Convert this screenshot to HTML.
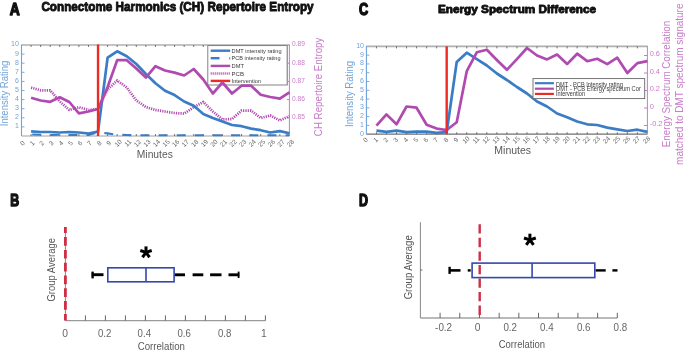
<!DOCTYPE html>
<html><head><meta charset="utf-8"><style>
html,body{margin:0;padding:0;background:#fff;width:685px;height:351px;overflow:hidden}
svg{display:block;will-change:transform}
text{font-family:"Liberation Sans", sans-serif}
</style></head><body>
<svg width="685" height="351" viewBox="0 0 685 351">
<rect width="685" height="351" fill="#ffffff"/>
<line x1="21.50" y1="45.00" x2="289.40" y2="45.00" stroke="#b0b0b0" stroke-width="1.6" />
<line x1="21.50" y1="136.00" x2="289.40" y2="136.00" stroke="#a0a0a0" stroke-width="1.2" />
<line x1="31.07" y1="45.00" x2="31.07" y2="47.00" stroke="#555" stroke-width="0.8" />
<line x1="31.07" y1="136.00" x2="31.07" y2="134.00" stroke="#555" stroke-width="0.8" />
<line x1="40.64" y1="45.00" x2="40.64" y2="47.00" stroke="#555" stroke-width="0.8" />
<line x1="40.64" y1="136.00" x2="40.64" y2="134.00" stroke="#555" stroke-width="0.8" />
<line x1="50.20" y1="45.00" x2="50.20" y2="47.00" stroke="#555" stroke-width="0.8" />
<line x1="50.20" y1="136.00" x2="50.20" y2="134.00" stroke="#555" stroke-width="0.8" />
<line x1="59.77" y1="45.00" x2="59.77" y2="47.00" stroke="#555" stroke-width="0.8" />
<line x1="59.77" y1="136.00" x2="59.77" y2="134.00" stroke="#555" stroke-width="0.8" />
<line x1="69.34" y1="45.00" x2="69.34" y2="47.00" stroke="#555" stroke-width="0.8" />
<line x1="69.34" y1="136.00" x2="69.34" y2="134.00" stroke="#555" stroke-width="0.8" />
<line x1="78.91" y1="45.00" x2="78.91" y2="47.00" stroke="#555" stroke-width="0.8" />
<line x1="78.91" y1="136.00" x2="78.91" y2="134.00" stroke="#555" stroke-width="0.8" />
<line x1="88.47" y1="45.00" x2="88.47" y2="47.00" stroke="#555" stroke-width="0.8" />
<line x1="88.47" y1="136.00" x2="88.47" y2="134.00" stroke="#555" stroke-width="0.8" />
<line x1="98.04" y1="45.00" x2="98.04" y2="47.00" stroke="#555" stroke-width="0.8" />
<line x1="98.04" y1="136.00" x2="98.04" y2="134.00" stroke="#555" stroke-width="0.8" />
<line x1="107.61" y1="45.00" x2="107.61" y2="47.00" stroke="#555" stroke-width="0.8" />
<line x1="107.61" y1="136.00" x2="107.61" y2="134.00" stroke="#555" stroke-width="0.8" />
<line x1="117.18" y1="45.00" x2="117.18" y2="47.00" stroke="#555" stroke-width="0.8" />
<line x1="117.18" y1="136.00" x2="117.18" y2="134.00" stroke="#555" stroke-width="0.8" />
<line x1="126.75" y1="45.00" x2="126.75" y2="47.00" stroke="#555" stroke-width="0.8" />
<line x1="126.75" y1="136.00" x2="126.75" y2="134.00" stroke="#555" stroke-width="0.8" />
<line x1="136.31" y1="45.00" x2="136.31" y2="47.00" stroke="#555" stroke-width="0.8" />
<line x1="136.31" y1="136.00" x2="136.31" y2="134.00" stroke="#555" stroke-width="0.8" />
<line x1="145.88" y1="45.00" x2="145.88" y2="47.00" stroke="#555" stroke-width="0.8" />
<line x1="145.88" y1="136.00" x2="145.88" y2="134.00" stroke="#555" stroke-width="0.8" />
<line x1="155.45" y1="45.00" x2="155.45" y2="47.00" stroke="#555" stroke-width="0.8" />
<line x1="155.45" y1="136.00" x2="155.45" y2="134.00" stroke="#555" stroke-width="0.8" />
<line x1="165.02" y1="45.00" x2="165.02" y2="47.00" stroke="#555" stroke-width="0.8" />
<line x1="165.02" y1="136.00" x2="165.02" y2="134.00" stroke="#555" stroke-width="0.8" />
<line x1="174.59" y1="45.00" x2="174.59" y2="47.00" stroke="#555" stroke-width="0.8" />
<line x1="174.59" y1="136.00" x2="174.59" y2="134.00" stroke="#555" stroke-width="0.8" />
<line x1="184.15" y1="45.00" x2="184.15" y2="47.00" stroke="#555" stroke-width="0.8" />
<line x1="184.15" y1="136.00" x2="184.15" y2="134.00" stroke="#555" stroke-width="0.8" />
<line x1="193.72" y1="45.00" x2="193.72" y2="47.00" stroke="#555" stroke-width="0.8" />
<line x1="193.72" y1="136.00" x2="193.72" y2="134.00" stroke="#555" stroke-width="0.8" />
<line x1="203.29" y1="45.00" x2="203.29" y2="47.00" stroke="#555" stroke-width="0.8" />
<line x1="203.29" y1="136.00" x2="203.29" y2="134.00" stroke="#555" stroke-width="0.8" />
<line x1="212.86" y1="45.00" x2="212.86" y2="47.00" stroke="#555" stroke-width="0.8" />
<line x1="212.86" y1="136.00" x2="212.86" y2="134.00" stroke="#555" stroke-width="0.8" />
<line x1="222.42" y1="45.00" x2="222.42" y2="47.00" stroke="#555" stroke-width="0.8" />
<line x1="222.42" y1="136.00" x2="222.42" y2="134.00" stroke="#555" stroke-width="0.8" />
<line x1="231.99" y1="45.00" x2="231.99" y2="47.00" stroke="#555" stroke-width="0.8" />
<line x1="231.99" y1="136.00" x2="231.99" y2="134.00" stroke="#555" stroke-width="0.8" />
<line x1="241.56" y1="45.00" x2="241.56" y2="47.00" stroke="#555" stroke-width="0.8" />
<line x1="241.56" y1="136.00" x2="241.56" y2="134.00" stroke="#555" stroke-width="0.8" />
<line x1="251.13" y1="45.00" x2="251.13" y2="47.00" stroke="#555" stroke-width="0.8" />
<line x1="251.13" y1="136.00" x2="251.13" y2="134.00" stroke="#555" stroke-width="0.8" />
<line x1="260.70" y1="45.00" x2="260.70" y2="47.00" stroke="#555" stroke-width="0.8" />
<line x1="260.70" y1="136.00" x2="260.70" y2="134.00" stroke="#555" stroke-width="0.8" />
<line x1="270.26" y1="45.00" x2="270.26" y2="47.00" stroke="#555" stroke-width="0.8" />
<line x1="270.26" y1="136.00" x2="270.26" y2="134.00" stroke="#555" stroke-width="0.8" />
<line x1="279.83" y1="45.00" x2="279.83" y2="47.00" stroke="#555" stroke-width="0.8" />
<line x1="279.83" y1="136.00" x2="279.83" y2="134.00" stroke="#555" stroke-width="0.8" />
<line x1="21.50" y1="44.50" x2="21.50" y2="136.00" stroke="#6fa3da" stroke-width="1.1" />
<line x1="21.50" y1="126.90" x2="24.50" y2="126.90" stroke="#6fa3da" stroke-width="0.9" />
<line x1="21.50" y1="117.80" x2="24.50" y2="117.80" stroke="#6fa3da" stroke-width="0.9" />
<line x1="21.50" y1="108.70" x2="24.50" y2="108.70" stroke="#6fa3da" stroke-width="0.9" />
<line x1="21.50" y1="99.60" x2="24.50" y2="99.60" stroke="#6fa3da" stroke-width="0.9" />
<line x1="21.50" y1="90.50" x2="24.50" y2="90.50" stroke="#6fa3da" stroke-width="0.9" />
<line x1="21.50" y1="81.40" x2="24.50" y2="81.40" stroke="#6fa3da" stroke-width="0.9" />
<line x1="21.50" y1="72.30" x2="24.50" y2="72.30" stroke="#6fa3da" stroke-width="0.9" />
<line x1="21.50" y1="63.20" x2="24.50" y2="63.20" stroke="#6fa3da" stroke-width="0.9" />
<line x1="21.50" y1="54.10" x2="24.50" y2="54.10" stroke="#6fa3da" stroke-width="0.9" />
<text x="18.80" y="128.30" font-size="7.0" fill="#6fa3da" text-anchor="end" font-weight="normal" >1</text>
<text x="18.80" y="119.20" font-size="7.0" fill="#6fa3da" text-anchor="end" font-weight="normal" >2</text>
<text x="18.80" y="110.10" font-size="7.0" fill="#6fa3da" text-anchor="end" font-weight="normal" >3</text>
<text x="18.80" y="101.00" font-size="7.0" fill="#6fa3da" text-anchor="end" font-weight="normal" >4</text>
<text x="18.80" y="91.90" font-size="7.0" fill="#6fa3da" text-anchor="end" font-weight="normal" >5</text>
<text x="18.80" y="82.80" font-size="7.0" fill="#6fa3da" text-anchor="end" font-weight="normal" >6</text>
<text x="18.80" y="73.70" font-size="7.0" fill="#6fa3da" text-anchor="end" font-weight="normal" >7</text>
<text x="18.80" y="64.60" font-size="7.0" fill="#6fa3da" text-anchor="end" font-weight="normal" >8</text>
<text x="18.80" y="55.50" font-size="7.0" fill="#6fa3da" text-anchor="end" font-weight="normal" >9</text>
<text x="18.80" y="46.40" font-size="7.0" fill="#6fa3da" text-anchor="end" font-weight="normal" >10</text>
<line x1="289.40" y1="44.50" x2="289.40" y2="136.00" stroke="#c77bc8" stroke-width="1.0" />
<text x="292.00" y="46.40" font-size="6.6" fill="#c77bc8" text-anchor="start" font-weight="normal" >0.89</text>
<line x1="286.90" y1="63.20" x2="289.40" y2="63.20" stroke="#c77bc8" stroke-width="1.0" />
<text x="292.00" y="64.60" font-size="6.6" fill="#c77bc8" text-anchor="start" font-weight="normal" >0.88</text>
<line x1="286.90" y1="81.40" x2="289.40" y2="81.40" stroke="#c77bc8" stroke-width="1.0" />
<text x="292.00" y="82.80" font-size="6.6" fill="#c77bc8" text-anchor="start" font-weight="normal" >0.87</text>
<line x1="286.90" y1="99.60" x2="289.40" y2="99.60" stroke="#c77bc8" stroke-width="1.0" />
<text x="292.00" y="101.00" font-size="6.6" fill="#c77bc8" text-anchor="start" font-weight="normal" >0.86</text>
<line x1="286.90" y1="117.80" x2="289.40" y2="117.80" stroke="#c77bc8" stroke-width="1.0" />
<text x="292.00" y="119.20" font-size="6.6" fill="#c77bc8" text-anchor="start" font-weight="normal" >0.85</text>
<text x="22.60" y="145.30" font-size="6.5" fill="#666" text-anchor="middle" transform="rotate(-45 22.60 143.10)">0</text>
<text x="32.17" y="145.30" font-size="6.5" fill="#666" text-anchor="middle" transform="rotate(-45 32.17 143.10)">1</text>
<text x="41.74" y="145.30" font-size="6.5" fill="#666" text-anchor="middle" transform="rotate(-45 41.74 143.10)">2</text>
<text x="51.30" y="145.30" font-size="6.5" fill="#666" text-anchor="middle" transform="rotate(-45 51.30 143.10)">3</text>
<text x="60.87" y="145.30" font-size="6.5" fill="#666" text-anchor="middle" transform="rotate(-45 60.87 143.10)">4</text>
<text x="70.44" y="145.30" font-size="6.5" fill="#666" text-anchor="middle" transform="rotate(-45 70.44 143.10)">5</text>
<text x="80.01" y="145.30" font-size="6.5" fill="#666" text-anchor="middle" transform="rotate(-45 80.01 143.10)">6</text>
<text x="89.57" y="145.30" font-size="6.5" fill="#666" text-anchor="middle" transform="rotate(-45 89.57 143.10)">7</text>
<text x="99.14" y="145.30" font-size="6.5" fill="#666" text-anchor="middle" transform="rotate(-45 99.14 143.10)">8</text>
<text x="108.71" y="145.30" font-size="6.5" fill="#666" text-anchor="middle" transform="rotate(-45 108.71 143.10)">9</text>
<text x="118.28" y="145.30" font-size="6.5" fill="#666" text-anchor="middle" transform="rotate(-45 118.28 143.10)">10</text>
<text x="127.85" y="145.30" font-size="6.5" fill="#666" text-anchor="middle" transform="rotate(-45 127.85 143.10)">11</text>
<text x="137.41" y="145.30" font-size="6.5" fill="#666" text-anchor="middle" transform="rotate(-45 137.41 143.10)">12</text>
<text x="146.98" y="145.30" font-size="6.5" fill="#666" text-anchor="middle" transform="rotate(-45 146.98 143.10)">13</text>
<text x="156.55" y="145.30" font-size="6.5" fill="#666" text-anchor="middle" transform="rotate(-45 156.55 143.10)">14</text>
<text x="166.12" y="145.30" font-size="6.5" fill="#666" text-anchor="middle" transform="rotate(-45 166.12 143.10)">15</text>
<text x="175.69" y="145.30" font-size="6.5" fill="#666" text-anchor="middle" transform="rotate(-45 175.69 143.10)">16</text>
<text x="185.25" y="145.30" font-size="6.5" fill="#666" text-anchor="middle" transform="rotate(-45 185.25 143.10)">17</text>
<text x="194.82" y="145.30" font-size="6.5" fill="#666" text-anchor="middle" transform="rotate(-45 194.82 143.10)">18</text>
<text x="204.39" y="145.30" font-size="6.5" fill="#666" text-anchor="middle" transform="rotate(-45 204.39 143.10)">19</text>
<text x="213.96" y="145.30" font-size="6.5" fill="#666" text-anchor="middle" transform="rotate(-45 213.96 143.10)">20</text>
<text x="223.52" y="145.30" font-size="6.5" fill="#666" text-anchor="middle" transform="rotate(-45 223.52 143.10)">21</text>
<text x="233.09" y="145.30" font-size="6.5" fill="#666" text-anchor="middle" transform="rotate(-45 233.09 143.10)">22</text>
<text x="242.66" y="145.30" font-size="6.5" fill="#666" text-anchor="middle" transform="rotate(-45 242.66 143.10)">23</text>
<text x="252.23" y="145.30" font-size="6.5" fill="#666" text-anchor="middle" transform="rotate(-45 252.23 143.10)">24</text>
<text x="261.80" y="145.30" font-size="6.5" fill="#666" text-anchor="middle" transform="rotate(-45 261.80 143.10)">25</text>
<text x="271.36" y="145.30" font-size="6.5" fill="#666" text-anchor="middle" transform="rotate(-45 271.36 143.10)">26</text>
<text x="280.93" y="145.30" font-size="6.5" fill="#666" text-anchor="middle" transform="rotate(-45 280.93 143.10)">27</text>
<text x="290.50" y="145.30" font-size="6.5" fill="#666" text-anchor="middle" transform="rotate(-45 290.50 143.10)">28</text>
<text x="136.80" y="157.60" font-size="11.2" fill="#5a5a5a" text-anchor="start" font-weight="normal" textLength="36" lengthAdjust="spacingAndGlyphs" >Minutes</text>
<text x="0" y="0" font-size="10.5" fill="#6fa3da" text-anchor="middle" textLength="65.5" lengthAdjust="spacingAndGlyphs" transform="translate(8.0 93.45) rotate(-90)">Intensity Rating</text>
<text x="0" y="0" font-size="10.8" fill="#c77bc8" text-anchor="middle" textLength="98.5" lengthAdjust="spacingAndGlyphs" transform="translate(322.3 86.9) rotate(-90)">CH Repertoire Entropy</text>
<rect x="207.8" y="45.6" width="79.5" height="39.4" fill="#fff" stroke="#777" stroke-width="0.9"/>
<line x1="287.30" y1="46.50" x2="287.30" y2="85.00" stroke="#999" stroke-width="1.2" />
<line x1="210.70" y1="50.70" x2="230.20" y2="50.70" stroke="#3a7dc6" stroke-width="2.4" />
<line x1="210.70" y1="58.20" x2="219.50" y2="58.20" stroke="#3a7dc6" stroke-width="2.4" />
<line x1="229.30" y1="58.20" x2="230.20" y2="58.20" stroke="#3a7dc6" stroke-width="2.4" />
<line x1="210.70" y1="65.90" x2="230.20" y2="65.90" stroke="#b04ab1" stroke-width="2.4" />
<line x1="210.70" y1="73.50" x2="230.20" y2="73.50" stroke="#b04ab1" stroke-width="2.4" stroke-dasharray="1 1"/>
<line x1="210.70" y1="80.90" x2="230.20" y2="80.90" stroke="#ee2a24" stroke-width="2.4" />
<text x="231.60" y="52.80" font-size="5.8" fill="#3a3a3a" text-anchor="start" font-weight="normal" textLength="50" lengthAdjust="spacingAndGlyphs" >DMT intensity rating</text>
<text x="231.60" y="60.30" font-size="5.8" fill="#3a3a3a" text-anchor="start" font-weight="normal" textLength="49" lengthAdjust="spacingAndGlyphs" >PCB intensity rating</text>
<text x="231.60" y="68.00" font-size="5.8" fill="#3a3a3a" text-anchor="start" font-weight="normal" textLength="12.4" lengthAdjust="spacingAndGlyphs" >DMT</text>
<text x="231.60" y="75.60" font-size="5.8" fill="#3a3a3a" text-anchor="start" font-weight="normal" textLength="12.4" lengthAdjust="spacingAndGlyphs" >PCB</text>
<text x="231.60" y="83.00" font-size="5.8" fill="#3a3a3a" text-anchor="start" font-weight="normal" textLength="29.4" lengthAdjust="spacingAndGlyphs" >Intervention</text>
<polyline points="31.07,134.50 40.64,134.80 50.20,135.00 59.77,134.80 69.34,135.00 78.91,134.80 88.47,135.00 98.04,132.20 107.61,133.40 117.18,134.80 126.75,135.00 136.31,135.20 145.88,135.30 155.45,135.30 165.02,135.30 174.59,135.30 184.15,135.30 193.72,135.30 203.29,135.30 212.86,135.30 222.42,135.30 231.99,135.30 241.56,135.30 251.13,135.30 260.70,135.30 270.26,135.30 279.83,135.30 289.40,135.30" fill="none" stroke="#3a7dc6" stroke-width="2.1" stroke-linejoin="round" stroke-linecap="butt" stroke-dasharray="9 9.14" stroke-dashoffset="17.0"/>
<polyline points="31.07,87.60 40.64,90.30 50.20,90.30 59.77,101.50 69.34,110.00 78.91,107.20 88.47,110.00 98.04,109.00 107.61,89.50 117.18,80.50 126.75,87.50 136.31,100.50 145.88,107.00 155.45,110.00 165.02,111.50 174.59,113.00 184.15,113.60 193.72,107.20 203.29,102.00 212.86,111.50 222.42,119.50 231.99,119.00 241.56,110.60 251.13,110.60 260.70,118.00 270.26,115.50 279.83,120.40 289.40,116.20" fill="none" stroke="#b04ab1" stroke-width="2.7" stroke-linejoin="round" stroke-linecap="butt" stroke-dasharray="1.2 1.1"/>
<polyline points="31.07,131.40 40.64,132.00 50.20,132.00 59.77,132.50 69.34,132.00 78.91,132.50 88.47,133.50 98.04,131.50 107.61,57.70 117.18,51.30 126.75,56.20 136.31,64.00 145.88,74.00 155.45,83.30 165.02,90.80 174.59,95.10 184.15,101.50 193.72,105.80 203.29,114.00 212.86,118.00 222.42,121.50 231.99,125.00 241.56,126.20 251.13,128.60 260.70,130.20 270.26,132.50 279.83,131.10 289.40,133.20" fill="none" stroke="#3a7dc6" stroke-width="2.7" stroke-linejoin="round" stroke-linecap="butt" />
<polyline points="31.07,97.70 40.64,100.50 50.20,101.80 59.77,97.30 69.34,102.00 78.91,113.40 88.47,111.50 98.04,109.00 107.61,87.00 117.18,60.20 126.75,60.20 136.31,68.50 145.88,77.60 155.45,66.20 165.02,70.50 174.59,72.60 184.15,75.50 193.72,69.00 203.29,79.50 212.86,93.50 222.42,82.50 231.99,93.50 241.56,85.70 251.13,85.70 260.70,94.70 270.26,97.00 279.83,98.60 289.40,92.30" fill="none" stroke="#b04ab1" stroke-width="2.7" stroke-linejoin="round" stroke-linecap="butt" />
<line x1="98.04" y1="44.50" x2="98.04" y2="136.00" stroke="#ee2a24" stroke-width="2.4" />
<line x1="366.40" y1="46.40" x2="647.40" y2="46.40" stroke="#b0b0b0" stroke-width="1.6" />
<line x1="366.40" y1="134.20" x2="647.40" y2="134.20" stroke="#707070" stroke-width="1.2" />
<line x1="376.44" y1="46.40" x2="376.44" y2="48.40" stroke="#555" stroke-width="0.8" />
<line x1="376.44" y1="134.20" x2="376.44" y2="132.20" stroke="#555" stroke-width="0.8" />
<line x1="386.47" y1="46.40" x2="386.47" y2="48.40" stroke="#555" stroke-width="0.8" />
<line x1="386.47" y1="134.20" x2="386.47" y2="132.20" stroke="#555" stroke-width="0.8" />
<line x1="396.51" y1="46.40" x2="396.51" y2="48.40" stroke="#555" stroke-width="0.8" />
<line x1="396.51" y1="134.20" x2="396.51" y2="132.20" stroke="#555" stroke-width="0.8" />
<line x1="406.54" y1="46.40" x2="406.54" y2="48.40" stroke="#555" stroke-width="0.8" />
<line x1="406.54" y1="134.20" x2="406.54" y2="132.20" stroke="#555" stroke-width="0.8" />
<line x1="416.58" y1="46.40" x2="416.58" y2="48.40" stroke="#555" stroke-width="0.8" />
<line x1="416.58" y1="134.20" x2="416.58" y2="132.20" stroke="#555" stroke-width="0.8" />
<line x1="426.61" y1="46.40" x2="426.61" y2="48.40" stroke="#555" stroke-width="0.8" />
<line x1="426.61" y1="134.20" x2="426.61" y2="132.20" stroke="#555" stroke-width="0.8" />
<line x1="436.65" y1="46.40" x2="436.65" y2="48.40" stroke="#555" stroke-width="0.8" />
<line x1="436.65" y1="134.20" x2="436.65" y2="132.20" stroke="#555" stroke-width="0.8" />
<line x1="446.69" y1="46.40" x2="446.69" y2="48.40" stroke="#555" stroke-width="0.8" />
<line x1="446.69" y1="134.20" x2="446.69" y2="132.20" stroke="#555" stroke-width="0.8" />
<line x1="456.72" y1="46.40" x2="456.72" y2="48.40" stroke="#555" stroke-width="0.8" />
<line x1="456.72" y1="134.20" x2="456.72" y2="132.20" stroke="#555" stroke-width="0.8" />
<line x1="466.76" y1="46.40" x2="466.76" y2="48.40" stroke="#555" stroke-width="0.8" />
<line x1="466.76" y1="134.20" x2="466.76" y2="132.20" stroke="#555" stroke-width="0.8" />
<line x1="476.79" y1="46.40" x2="476.79" y2="48.40" stroke="#555" stroke-width="0.8" />
<line x1="476.79" y1="134.20" x2="476.79" y2="132.20" stroke="#555" stroke-width="0.8" />
<line x1="486.83" y1="46.40" x2="486.83" y2="48.40" stroke="#555" stroke-width="0.8" />
<line x1="486.83" y1="134.20" x2="486.83" y2="132.20" stroke="#555" stroke-width="0.8" />
<line x1="496.86" y1="46.40" x2="496.86" y2="48.40" stroke="#555" stroke-width="0.8" />
<line x1="496.86" y1="134.20" x2="496.86" y2="132.20" stroke="#555" stroke-width="0.8" />
<line x1="506.90" y1="46.40" x2="506.90" y2="48.40" stroke="#555" stroke-width="0.8" />
<line x1="506.90" y1="134.20" x2="506.90" y2="132.20" stroke="#555" stroke-width="0.8" />
<line x1="516.94" y1="46.40" x2="516.94" y2="48.40" stroke="#555" stroke-width="0.8" />
<line x1="516.94" y1="134.20" x2="516.94" y2="132.20" stroke="#555" stroke-width="0.8" />
<line x1="526.97" y1="46.40" x2="526.97" y2="48.40" stroke="#555" stroke-width="0.8" />
<line x1="526.97" y1="134.20" x2="526.97" y2="132.20" stroke="#555" stroke-width="0.8" />
<line x1="537.01" y1="46.40" x2="537.01" y2="48.40" stroke="#555" stroke-width="0.8" />
<line x1="537.01" y1="134.20" x2="537.01" y2="132.20" stroke="#555" stroke-width="0.8" />
<line x1="547.04" y1="46.40" x2="547.04" y2="48.40" stroke="#555" stroke-width="0.8" />
<line x1="547.04" y1="134.20" x2="547.04" y2="132.20" stroke="#555" stroke-width="0.8" />
<line x1="557.08" y1="46.40" x2="557.08" y2="48.40" stroke="#555" stroke-width="0.8" />
<line x1="557.08" y1="134.20" x2="557.08" y2="132.20" stroke="#555" stroke-width="0.8" />
<line x1="567.11" y1="46.40" x2="567.11" y2="48.40" stroke="#555" stroke-width="0.8" />
<line x1="567.11" y1="134.20" x2="567.11" y2="132.20" stroke="#555" stroke-width="0.8" />
<line x1="577.15" y1="46.40" x2="577.15" y2="48.40" stroke="#555" stroke-width="0.8" />
<line x1="577.15" y1="134.20" x2="577.15" y2="132.20" stroke="#555" stroke-width="0.8" />
<line x1="587.19" y1="46.40" x2="587.19" y2="48.40" stroke="#555" stroke-width="0.8" />
<line x1="587.19" y1="134.20" x2="587.19" y2="132.20" stroke="#555" stroke-width="0.8" />
<line x1="597.22" y1="46.40" x2="597.22" y2="48.40" stroke="#555" stroke-width="0.8" />
<line x1="597.22" y1="134.20" x2="597.22" y2="132.20" stroke="#555" stroke-width="0.8" />
<line x1="607.26" y1="46.40" x2="607.26" y2="48.40" stroke="#555" stroke-width="0.8" />
<line x1="607.26" y1="134.20" x2="607.26" y2="132.20" stroke="#555" stroke-width="0.8" />
<line x1="617.29" y1="46.40" x2="617.29" y2="48.40" stroke="#555" stroke-width="0.8" />
<line x1="617.29" y1="134.20" x2="617.29" y2="132.20" stroke="#555" stroke-width="0.8" />
<line x1="627.33" y1="46.40" x2="627.33" y2="48.40" stroke="#555" stroke-width="0.8" />
<line x1="627.33" y1="134.20" x2="627.33" y2="132.20" stroke="#555" stroke-width="0.8" />
<line x1="637.36" y1="46.40" x2="637.36" y2="48.40" stroke="#555" stroke-width="0.8" />
<line x1="637.36" y1="134.20" x2="637.36" y2="132.20" stroke="#555" stroke-width="0.8" />
<line x1="366.40" y1="45.90" x2="366.40" y2="134.20" stroke="#6fa3da" stroke-width="1.1" />
<text x="364.00" y="135.70" font-size="7.0" fill="#6fa3da" text-anchor="end" font-weight="normal" >0</text>
<line x1="366.40" y1="125.42" x2="369.40" y2="125.42" stroke="#6fa3da" stroke-width="0.9" />
<text x="364.00" y="126.92" font-size="7.0" fill="#6fa3da" text-anchor="end" font-weight="normal" >1</text>
<line x1="366.40" y1="116.64" x2="369.40" y2="116.64" stroke="#6fa3da" stroke-width="0.9" />
<text x="364.00" y="118.14" font-size="7.0" fill="#6fa3da" text-anchor="end" font-weight="normal" >2</text>
<line x1="366.40" y1="107.86" x2="369.40" y2="107.86" stroke="#6fa3da" stroke-width="0.9" />
<text x="364.00" y="109.36" font-size="7.0" fill="#6fa3da" text-anchor="end" font-weight="normal" >3</text>
<line x1="366.40" y1="99.08" x2="369.40" y2="99.08" stroke="#6fa3da" stroke-width="0.9" />
<text x="364.00" y="100.58" font-size="7.0" fill="#6fa3da" text-anchor="end" font-weight="normal" >4</text>
<line x1="366.40" y1="90.30" x2="369.40" y2="90.30" stroke="#6fa3da" stroke-width="0.9" />
<text x="364.00" y="91.80" font-size="7.0" fill="#6fa3da" text-anchor="end" font-weight="normal" >5</text>
<line x1="366.40" y1="81.52" x2="369.40" y2="81.52" stroke="#6fa3da" stroke-width="0.9" />
<text x="364.00" y="83.02" font-size="7.0" fill="#6fa3da" text-anchor="end" font-weight="normal" >6</text>
<line x1="366.40" y1="72.74" x2="369.40" y2="72.74" stroke="#6fa3da" stroke-width="0.9" />
<text x="364.00" y="74.24" font-size="7.0" fill="#6fa3da" text-anchor="end" font-weight="normal" >7</text>
<line x1="366.40" y1="63.96" x2="369.40" y2="63.96" stroke="#6fa3da" stroke-width="0.9" />
<text x="364.00" y="65.46" font-size="7.0" fill="#6fa3da" text-anchor="end" font-weight="normal" >8</text>
<line x1="366.40" y1="55.18" x2="369.40" y2="55.18" stroke="#6fa3da" stroke-width="0.9" />
<text x="364.00" y="56.68" font-size="7.0" fill="#6fa3da" text-anchor="end" font-weight="normal" >9</text>
<text x="364.00" y="47.90" font-size="7.0" fill="#6fa3da" text-anchor="end" font-weight="normal" >10</text>
<line x1="647.40" y1="45.90" x2="647.40" y2="134.20" stroke="#c77bc8" stroke-width="1.0" />
<line x1="644.00" y1="55.50" x2="647.40" y2="55.50" stroke="#c77bc8" stroke-width="1.0" />
<text x="649.70" y="56.20" font-size="7.4" fill="#c77bc8" text-anchor="start" font-weight="normal" >0.6</text>
<line x1="644.00" y1="73.00" x2="647.40" y2="73.00" stroke="#c77bc8" stroke-width="1.0" />
<text x="649.70" y="73.70" font-size="7.4" fill="#c77bc8" text-anchor="start" font-weight="normal" >0.4</text>
<line x1="644.00" y1="90.50" x2="647.40" y2="90.50" stroke="#c77bc8" stroke-width="1.0" />
<text x="649.70" y="91.20" font-size="7.4" fill="#c77bc8" text-anchor="start" font-weight="normal" >0.2</text>
<line x1="644.00" y1="108.00" x2="647.40" y2="108.00" stroke="#c77bc8" stroke-width="1.0" />
<text x="649.70" y="108.70" font-size="7.4" fill="#c77bc8" text-anchor="start" font-weight="normal" >0</text>
<line x1="644.00" y1="125.50" x2="647.40" y2="125.50" stroke="#c77bc8" stroke-width="1.0" />
<text x="649.70" y="126.20" font-size="7.4" fill="#c77bc8" text-anchor="start" font-weight="normal" >-0.2</text>
<text x="365.60" y="142.20" font-size="6.5" fill="#666" text-anchor="middle" transform="rotate(-45 365.60 140.00)">0</text>
<text x="375.64" y="142.20" font-size="6.5" fill="#666" text-anchor="middle" transform="rotate(-45 375.64 140.00)">1</text>
<text x="385.67" y="142.20" font-size="6.5" fill="#666" text-anchor="middle" transform="rotate(-45 385.67 140.00)">2</text>
<text x="395.71" y="142.20" font-size="6.5" fill="#666" text-anchor="middle" transform="rotate(-45 395.71 140.00)">3</text>
<text x="405.74" y="142.20" font-size="6.5" fill="#666" text-anchor="middle" transform="rotate(-45 405.74 140.00)">4</text>
<text x="415.78" y="142.20" font-size="6.5" fill="#666" text-anchor="middle" transform="rotate(-45 415.78 140.00)">5</text>
<text x="425.81" y="142.20" font-size="6.5" fill="#666" text-anchor="middle" transform="rotate(-45 425.81 140.00)">6</text>
<text x="435.85" y="142.20" font-size="6.5" fill="#666" text-anchor="middle" transform="rotate(-45 435.85 140.00)">7</text>
<text x="445.89" y="142.20" font-size="6.5" fill="#666" text-anchor="middle" transform="rotate(-45 445.89 140.00)">8</text>
<text x="455.92" y="142.20" font-size="6.5" fill="#666" text-anchor="middle" transform="rotate(-45 455.92 140.00)">9</text>
<text x="465.96" y="142.20" font-size="6.5" fill="#666" text-anchor="middle" transform="rotate(-45 465.96 140.00)">10</text>
<text x="475.99" y="142.20" font-size="6.5" fill="#666" text-anchor="middle" transform="rotate(-45 475.99 140.00)">11</text>
<text x="486.03" y="142.20" font-size="6.5" fill="#666" text-anchor="middle" transform="rotate(-45 486.03 140.00)">12</text>
<text x="496.06" y="142.20" font-size="6.5" fill="#666" text-anchor="middle" transform="rotate(-45 496.06 140.00)">13</text>
<text x="506.10" y="142.20" font-size="6.5" fill="#666" text-anchor="middle" transform="rotate(-45 506.10 140.00)">14</text>
<text x="516.14" y="142.20" font-size="6.5" fill="#666" text-anchor="middle" transform="rotate(-45 516.14 140.00)">15</text>
<text x="526.17" y="142.20" font-size="6.5" fill="#666" text-anchor="middle" transform="rotate(-45 526.17 140.00)">16</text>
<text x="536.21" y="142.20" font-size="6.5" fill="#666" text-anchor="middle" transform="rotate(-45 536.21 140.00)">17</text>
<text x="546.24" y="142.20" font-size="6.5" fill="#666" text-anchor="middle" transform="rotate(-45 546.24 140.00)">18</text>
<text x="556.28" y="142.20" font-size="6.5" fill="#666" text-anchor="middle" transform="rotate(-45 556.28 140.00)">19</text>
<text x="566.31" y="142.20" font-size="6.5" fill="#666" text-anchor="middle" transform="rotate(-45 566.31 140.00)">20</text>
<text x="576.35" y="142.20" font-size="6.5" fill="#666" text-anchor="middle" transform="rotate(-45 576.35 140.00)">21</text>
<text x="586.39" y="142.20" font-size="6.5" fill="#666" text-anchor="middle" transform="rotate(-45 586.39 140.00)">22</text>
<text x="596.42" y="142.20" font-size="6.5" fill="#666" text-anchor="middle" transform="rotate(-45 596.42 140.00)">23</text>
<text x="606.46" y="142.20" font-size="6.5" fill="#666" text-anchor="middle" transform="rotate(-45 606.46 140.00)">24</text>
<text x="616.49" y="142.20" font-size="6.5" fill="#666" text-anchor="middle" transform="rotate(-45 616.49 140.00)">25</text>
<text x="626.53" y="142.20" font-size="6.5" fill="#666" text-anchor="middle" transform="rotate(-45 626.53 140.00)">26</text>
<text x="636.56" y="142.20" font-size="6.5" fill="#666" text-anchor="middle" transform="rotate(-45 636.56 140.00)">27</text>
<text x="646.60" y="142.20" font-size="6.5" fill="#666" text-anchor="middle" transform="rotate(-45 646.60 140.00)">28</text>
<text x="494.30" y="154.30" font-size="11.2" fill="#5a5a5a" text-anchor="start" font-weight="normal" textLength="36.8" lengthAdjust="spacingAndGlyphs" >Minutes</text>
<text x="0" y="0" font-size="10.5" fill="#6fa3da" text-anchor="middle" textLength="66.0" lengthAdjust="spacingAndGlyphs" transform="translate(352.5 93.95) rotate(-90)">Intensity Rating</text>
<text x="0" y="0" font-size="10.6" fill="#c77bc8" text-anchor="middle" textLength="126.5" lengthAdjust="spacingAndGlyphs" transform="translate(669.5 84.0) rotate(-90)">Energy Spectrum Correlation</text>
<text x="0" y="0" font-size="10.6" fill="#c77bc8" text-anchor="middle" textLength="161.4" lengthAdjust="spacingAndGlyphs" transform="translate(682.7 84.25) rotate(-90)">matched to DMT spectrum signature</text>
<polyline points="376.44,130.70 386.47,131.90 396.51,130.70 406.54,132.20 416.58,131.70 426.61,131.70 436.65,132.90 446.69,132.20 456.72,62.00 466.76,52.70 476.79,59.10 486.83,65.50 496.86,73.50 506.90,80.00 516.94,87.00 526.97,93.50 537.01,101.50 547.04,106.50 557.08,113.50 567.11,117.20 577.15,121.50 587.19,124.30 597.22,125.00 607.26,127.60 617.29,129.30 627.33,131.00 637.36,129.70 647.40,131.90" fill="none" stroke="#3a7dc6" stroke-width="2.7" stroke-linejoin="round" stroke-linecap="butt" />
<polyline points="376.44,125.70 386.47,114.40 396.51,124.30 406.54,106.50 416.58,107.70 426.61,124.80 436.65,128.60 446.69,130.00 456.72,122.20 466.76,71.20 476.79,52.30 486.83,49.80 496.86,60.00 506.90,69.80 516.94,59.10 526.97,48.00 537.01,55.50 547.04,59.40 557.08,54.50 567.11,64.10 577.15,53.70 587.19,61.20 597.22,58.80 607.26,64.10 617.29,57.70 627.33,73.00 637.36,63.10 647.40,61.20" fill="none" stroke="#b04ab1" stroke-width="2.7" stroke-linejoin="round" stroke-linecap="butt" />
<line x1="446.69" y1="46.40" x2="446.69" y2="134.20" stroke="#ee2a24" stroke-width="2.4" />
<rect x="533" y="78.6" width="111.7" height="20" fill="#fff" stroke="#666" stroke-width="0.9"/>
<line x1="534.90" y1="83.20" x2="553.90" y2="83.20" stroke="#3a7dc6" stroke-width="2.2" />
<line x1="534.90" y1="88.70" x2="553.90" y2="88.70" stroke="#b04ab1" stroke-width="2.2" />
<line x1="534.90" y1="93.90" x2="553.90" y2="93.90" stroke="#ee2a24" stroke-width="2.2" />
<text x="556.00" y="86.60" font-size="6.8" fill="#3a3a3a" text-anchor="start" font-weight="normal" textLength="66.8" lengthAdjust="spacingAndGlyphs" >DMT - PCB Intensity rating</text>
<text x="556.00" y="91.40" font-size="6.8" fill="#3a3a3a" text-anchor="start" font-weight="normal" textLength="84.8" lengthAdjust="spacingAndGlyphs" >DMT - PCB Energy spectrum Cor</text>
<text x="556.00" y="96.00" font-size="6.8" fill="#3a3a3a" text-anchor="start" font-weight="normal" textLength="29" lengthAdjust="spacingAndGlyphs" >Intervention</text>
<text x="9.7" y="14.8" font-size="17.0" font-weight="bold" fill="#111" stroke="#111" stroke-width="1.5" stroke-linejoin="round" textLength="10.0" lengthAdjust="spacingAndGlyphs">A</text>
<text x="41.4" y="10.9" font-size="13.0" font-weight="bold" fill="#111" stroke="#111" stroke-width="0.9" stroke-linejoin="round" textLength="272.2" lengthAdjust="spacingAndGlyphs">Connectome Harmonics (CH) Repertoire Entropy</text>
<text x="359.1" y="15.1" font-size="17.0" font-weight="bold" fill="#111" stroke="#111" stroke-width="1.5" stroke-linejoin="round" textLength="9.2" lengthAdjust="spacingAndGlyphs">C</text>
<text x="437.9" y="12.8" font-size="11.6" font-weight="bold" fill="#111" stroke="#111" stroke-width="0.9" stroke-linejoin="round" textLength="158.2" lengthAdjust="spacingAndGlyphs">Energy Spectrum Difference</text>
<text x="10.2" y="206.3" font-size="17.0" font-weight="bold" fill="#111" stroke="#111" stroke-width="1.5" stroke-linejoin="round" textLength="8.9" lengthAdjust="spacingAndGlyphs">B</text>
<text x="359.1" y="206.3" font-size="17.0" font-weight="bold" fill="#111" stroke="#111" stroke-width="1.5" stroke-linejoin="round" textLength="9.0" lengthAdjust="spacingAndGlyphs">D</text>
<line x1="65.40" y1="320.60" x2="265.40" y2="320.60" stroke="#9a9a9a" stroke-width="1.2" />
<line x1="65.40" y1="227.00" x2="65.40" y2="320.60" stroke="#777" stroke-width="0.9" />
<line x1="85.40" y1="315.40" x2="85.40" y2="320.60" stroke="#555" stroke-width="0.9" />
<line x1="105.40" y1="315.40" x2="105.40" y2="320.60" stroke="#555" stroke-width="0.9" />
<line x1="125.40" y1="315.40" x2="125.40" y2="320.60" stroke="#555" stroke-width="0.9" />
<line x1="145.40" y1="315.40" x2="145.40" y2="320.60" stroke="#555" stroke-width="0.9" />
<line x1="165.40" y1="315.40" x2="165.40" y2="320.60" stroke="#555" stroke-width="0.9" />
<line x1="185.40" y1="315.40" x2="185.40" y2="320.60" stroke="#555" stroke-width="0.9" />
<line x1="205.40" y1="315.40" x2="205.40" y2="320.60" stroke="#555" stroke-width="0.9" />
<line x1="225.40" y1="315.40" x2="225.40" y2="320.60" stroke="#555" stroke-width="0.9" />
<line x1="245.40" y1="315.40" x2="245.40" y2="320.60" stroke="#555" stroke-width="0.9" />
<line x1="265.40" y1="315.40" x2="265.40" y2="320.60" stroke="#555" stroke-width="0.9" />
<text x="65.00" y="337.00" font-size="10.3" fill="#666" text-anchor="middle" font-weight="normal" >0</text>
<text x="104.60" y="337.00" font-size="10.3" fill="#666" text-anchor="middle" font-weight="normal" textLength="13.4" lengthAdjust="spacingAndGlyphs" >0.2</text>
<text x="144.30" y="337.00" font-size="10.3" fill="#666" text-anchor="middle" font-weight="normal" textLength="13.4" lengthAdjust="spacingAndGlyphs" >0.4</text>
<text x="184.20" y="337.00" font-size="10.3" fill="#666" text-anchor="middle" font-weight="normal" textLength="13.4" lengthAdjust="spacingAndGlyphs" >0.6</text>
<text x="224.60" y="337.00" font-size="10.3" fill="#666" text-anchor="middle" font-weight="normal" textLength="13.4" lengthAdjust="spacingAndGlyphs" >0.8</text>
<text x="263.80" y="337.00" font-size="10.3" fill="#666" text-anchor="middle" font-weight="normal" >1</text>
<text x="137.70" y="349.60" font-size="10.2" fill="#5a5a5a" text-anchor="start" font-weight="normal" textLength="47.3" lengthAdjust="spacingAndGlyphs" >Correlation</text>
<text x="0" y="0" font-size="10.5" fill="#555555" text-anchor="middle" textLength="63.5" lengthAdjust="spacingAndGlyphs" transform="translate(54.9 269.8) rotate(-90)">Group Average</text>
<line x1="65.40" y1="227.10" x2="65.40" y2="320.50" stroke="#cf2e44" stroke-width="2.8" stroke-dasharray="8.7 4.1" stroke-dashoffset="2.8"/>
<rect x="107.8" y="267.8" width="66.3" height="14" fill="none" stroke="#3548aa" stroke-width="1.6"/>
<line x1="146.00" y1="267.80" x2="146.00" y2="281.80" stroke="#3548aa" stroke-width="1.6" />
<line x1="91.80" y1="274.70" x2="103.50" y2="274.70" stroke="#000" stroke-width="2.9" />
<line x1="92.60" y1="271.60" x2="92.60" y2="278.40" stroke="#000" stroke-width="2.4" />
<line x1="174.90" y1="274.80" x2="185.00" y2="274.80" stroke="#000" stroke-width="2.9" />
<line x1="192.60" y1="274.80" x2="203.30" y2="274.80" stroke="#000" stroke-width="2.9" />
<line x1="210.10" y1="274.80" x2="221.50" y2="274.80" stroke="#000" stroke-width="2.9" />
<line x1="228.50" y1="274.80" x2="239.30" y2="274.80" stroke="#000" stroke-width="2.9" />
<line x1="238.60" y1="271.60" x2="238.60" y2="278.00" stroke="#000" stroke-width="1.8" />
<line x1="146.00" y1="252.40" x2="146.00" y2="246.40" stroke="#000" stroke-width="3.0" stroke-linecap="butt"/>
<line x1="146.00" y1="252.40" x2="151.71" y2="250.55" stroke="#000" stroke-width="3.0" stroke-linecap="butt"/>
<line x1="146.00" y1="252.40" x2="149.53" y2="257.25" stroke="#000" stroke-width="3.0" stroke-linecap="butt"/>
<line x1="146.00" y1="252.40" x2="142.47" y2="257.25" stroke="#000" stroke-width="3.0" stroke-linecap="butt"/>
<line x1="146.00" y1="252.40" x2="140.29" y2="250.55" stroke="#000" stroke-width="3.0" stroke-linecap="butt"/>
<circle cx="146" cy="252.4" r="1.7999999999999998" fill="#000"/>
<line x1="420.40" y1="318.00" x2="617.30" y2="318.00" stroke="#777" stroke-width="1.2" />
<line x1="420.40" y1="222.20" x2="420.40" y2="318.00" stroke="#888" stroke-width="1.0" />
<line x1="420.40" y1="270.00" x2="422.40" y2="270.00" stroke="#555" stroke-width="0.9" />
<line x1="440.09" y1="312.80" x2="440.09" y2="318.00" stroke="#555" stroke-width="0.9" />
<line x1="459.78" y1="312.80" x2="459.78" y2="318.00" stroke="#555" stroke-width="0.9" />
<line x1="479.47" y1="312.80" x2="479.47" y2="318.00" stroke="#555" stroke-width="0.9" />
<line x1="499.16" y1="312.80" x2="499.16" y2="318.00" stroke="#555" stroke-width="0.9" />
<line x1="518.85" y1="312.80" x2="518.85" y2="318.00" stroke="#555" stroke-width="0.9" />
<line x1="538.54" y1="312.80" x2="538.54" y2="318.00" stroke="#555" stroke-width="0.9" />
<line x1="558.23" y1="312.80" x2="558.23" y2="318.00" stroke="#555" stroke-width="0.9" />
<line x1="577.92" y1="312.80" x2="577.92" y2="318.00" stroke="#555" stroke-width="0.9" />
<line x1="597.61" y1="312.80" x2="597.61" y2="318.00" stroke="#555" stroke-width="0.9" />
<line x1="617.30" y1="312.80" x2="617.30" y2="318.00" stroke="#555" stroke-width="0.9" />
<text x="443.60" y="330.80" font-size="10.3" fill="#666" text-anchor="middle" font-weight="normal" textLength="17" lengthAdjust="spacingAndGlyphs" >-0.2</text>
<text x="477.70" y="330.80" font-size="10.3" fill="#666" text-anchor="middle" font-weight="normal" >0</text>
<text x="510.20" y="330.80" font-size="10.3" fill="#666" text-anchor="middle" font-weight="normal" textLength="13.6" lengthAdjust="spacingAndGlyphs" >0.2</text>
<text x="546.90" y="330.80" font-size="10.3" fill="#666" text-anchor="middle" font-weight="normal" textLength="13.6" lengthAdjust="spacingAndGlyphs" >0.4</text>
<text x="583.70" y="330.80" font-size="10.3" fill="#666" text-anchor="middle" font-weight="normal" textLength="13.6" lengthAdjust="spacingAndGlyphs" >0.6</text>
<text x="620.30" y="330.80" font-size="10.3" fill="#666" text-anchor="middle" font-weight="normal" textLength="13.6" lengthAdjust="spacingAndGlyphs" >0.8</text>
<text x="498.70" y="348.20" font-size="10.2" fill="#5a5a5a" text-anchor="start" font-weight="normal" textLength="46.4" lengthAdjust="spacingAndGlyphs" >Correlation</text>
<text x="0" y="0" font-size="10.5" fill="#555555" text-anchor="middle" textLength="64.0" lengthAdjust="spacingAndGlyphs" transform="translate(411.9 267.3) rotate(-90)">Group Average</text>
<line x1="479.70" y1="224.30" x2="479.70" y2="318.00" stroke="#cf2e44" stroke-width="2.4" stroke-dasharray="9.3 4.25"/>
<rect x="472.1" y="263.1" width="122.7" height="14.5" fill="none" stroke="#3548aa" stroke-width="1.6"/>
<line x1="532.10" y1="263.10" x2="532.10" y2="277.60" stroke="#3548aa" stroke-width="1.6" />
<line x1="449.00" y1="270.40" x2="460.50" y2="270.40" stroke="#000" stroke-width="2.6" />
<line x1="449.60" y1="266.80" x2="449.60" y2="273.90" stroke="#000" stroke-width="2.4" />
<line x1="467.70" y1="270.40" x2="470.70" y2="270.40" stroke="#000" stroke-width="2.4" />
<line x1="595.70" y1="270.40" x2="605.70" y2="270.40" stroke="#000" stroke-width="2.4" />
<line x1="612.40" y1="270.40" x2="617.50" y2="270.40" stroke="#000" stroke-width="2.4" />
<line x1="529.90" y1="239.90" x2="529.90" y2="233.70" stroke="#000" stroke-width="3.0" stroke-linecap="butt"/>
<line x1="529.90" y1="239.90" x2="535.80" y2="237.98" stroke="#000" stroke-width="3.0" stroke-linecap="butt"/>
<line x1="529.90" y1="239.90" x2="533.54" y2="244.92" stroke="#000" stroke-width="3.0" stroke-linecap="butt"/>
<line x1="529.90" y1="239.90" x2="526.26" y2="244.92" stroke="#000" stroke-width="3.0" stroke-linecap="butt"/>
<line x1="529.90" y1="239.90" x2="524.00" y2="237.98" stroke="#000" stroke-width="3.0" stroke-linecap="butt"/>
<circle cx="529.9" cy="239.9" r="1.7999999999999998" fill="#000"/>
</svg>
</body></html>
